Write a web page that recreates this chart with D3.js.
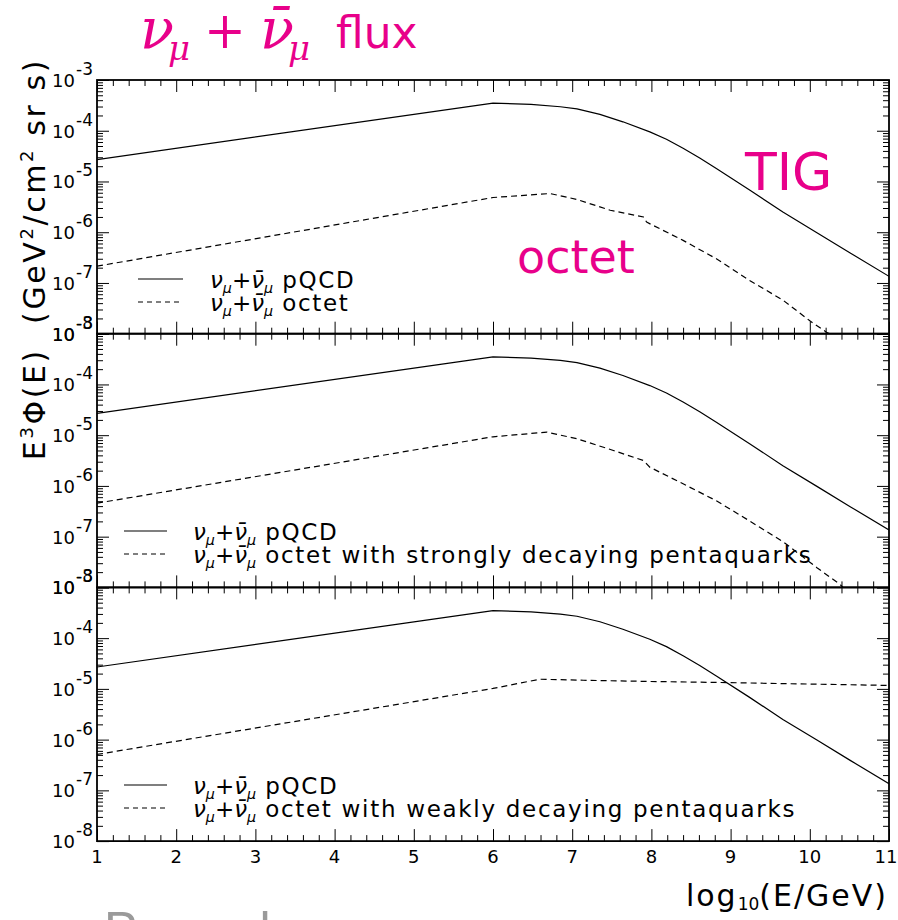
<!DOCTYPE html>
<html><head><meta charset="utf-8">
<script src="https://cdn.jsdelivr.net/npm/d3@7"></script>
<style>body{margin:0;background:#fff} svg{display:block}</style>
</head><body><svg id="c" width="898" height="920"></svg>
<script>
// ---------------- data ----------------
const energyTicks = [1,2,3,4,5,6,7,8,9,10,11];
const fluxExponents = [-3,-4,-5,-6,-7,-8];

const pqcdLogE = [1, 6, 6.48, 6.85, 7.06, 7.35, 7.64, 7.98, 8.19, 8.4, 8.61, 8.82, 9.24, 9.66, 10.09, 10.51, 11];
const pqcdFlux = [2.7e-5, 3.5e-4, 3.3e-4, 2.97e-4, 2.7e-4, 2.1e-4, 1.5e-4, 9.5e-5, 6.8e-5, 4.5e-5, 2.9e-5, 1.8e-5, 6.8e-6, 2.5e-6, 9.8e-7, 3.9e-7, 1.35e-7];

const octetLogE = [1, 6, 6.72, 7.06, 7.48, 7.9, 7.94, 8.4, 8.82, 9.24, 9.66, 10.0, 10.21, 10.25];
const octetFlux = [2.14e-7, 4.83e-6, 5.79e-6, 4.42e-6, 2.71e-6, 2.0e-6, 1.58e-6, 6.9e-7, 3.0e-7, 1.12e-7, 4.6e-8, 1.8e-8, 1.07e-8, 1.0e-8];

const strongLogE = [1, 6, 6.68, 7.06, 7.52, 7.9, 7.98, 8.4, 8.82, 9.24, 9.67, 10.09, 10.38, 10.42];
const strongFlux = [4.57e-7, 9.3e-6, 1.15e-5, 8.5e-6, 5.0e-6, 3.16e-6, 2.34e-6, 1.1e-6, 5.1e-7, 2.04e-7, 7.8e-8, 2.45e-8, 1.15e-8, 1.0e-8];

const weakLogE = [1, 6, 6.59, 7.14, 7.98, 8.95, 9.67, 11];
const weakFlux = [5.1e-7, 1.02e-5, 1.55e-5, 1.48e-5, 1.4e-5, 1.33e-5, 1.27e-5, 1.17e-5];

const legendSolid = "pQCD";
const legendDashed = ["octet", "octet with strongly decaying pentaquarks", "octet with weakly decaying pentaquarks"];

// ---------------- layout ----------------
const L = 97, R = 889, T0 = 80, PH = 253.7;
const magenta = '#e8008a';
const SANS = "'DejaVu Sans', sans-serif";
const SERIF = "'DejaVu Serif', serif";
const svg = d3.select('#c');
const x = d3.scaleLinear().domain([1, 11]).range([L, R]);

const panels = [
  {dx: octetLogE, dy: octetFlux, leg: legendDashed[0], lx0: 138, lx1: 183, tx: 210, ly: 279},
  {dx: strongLogE, dy: strongFlux, leg: legendDashed[1], lx0: 124, lx1: 167, tx: 193, ly: 531},
  {dx: weakLogE, dy: weakFlux, leg: legendDashed[2], lx0: 124, lx1: 167, tx: 193, ly: 785}
];

const minorE = d3.range(10, 111, 2).map(v => v / 10).filter(v => v % 1 !== 0);

function nuText(g, x0, yb, suffix, size) {
  const t = g.append('text').attr('x', x0).attr('y', yb)
    .attr('font-family', SANS).attr('font-size', size).attr('fill', '#000');
  t.append('tspan').attr('font-style', 'italic').text('ν');
  t.append('tspan').attr('font-style', 'italic').attr('font-size', size * 0.62).attr('dy', 5).text('μ');
  t.append('tspan').attr('dy', -5).text('+');
  t.append('tspan').attr('font-style', 'italic').text('ν\u0304');
  t.append('tspan').attr('font-style', 'italic').attr('font-size', size * 0.62).attr('dy', 5).text('μ');
  t.append('tspan').attr('dy', -5).attr('letter-spacing', 1.7).text('\u00a0' + suffix);
}

panels.forEach((p, i) => {
  const top = T0 + i * PH, bot = top + PH;
  const y = d3.scaleLog().domain([1e-8, 1e-3]).range([bot, top]);
  const g = svg.append('g');
  const cid = 'clip' + i;
  svg.append('clipPath').attr('id', cid).append('rect')
    .attr('x', L).attr('y', top).attr('width', R - L).attr('height', PH);

  const line = d3.line().x(d => x(d[0])).y(d => y(d[1]));
  g.append('path').datum(d3.zip(pqcdLogE, pqcdFlux)).attr('d', line)
    .attr('fill', 'none').attr('stroke', '#000').attr('stroke-width', 1.2)
    .attr('stroke-linejoin', 'round').attr('clip-path', `url(#${cid})`);
  g.append('path').datum(d3.zip(p.dx, p.dy)).attr('d', line)
    .attr('fill', 'none').attr('stroke', '#000').attr('stroke-width', 1.2)
    .attr('stroke-dasharray', '6,4').attr('clip-path', `url(#${cid})`);

  const strip = s => s.call(a => a.select('.domain').remove());
  // x ticks (inward)
  g.append('g').attr('transform', `translate(0,${bot})`)
    .call(d3.axisBottom(x).tickValues(energyTicks).tickSize(-12).tickFormat('')).call(strip);
  g.append('g').attr('transform', `translate(0,${bot})`)
    .call(d3.axisBottom(x).tickValues(minorE).tickSize(-6).tickFormat('')).call(strip);
  g.append('g').attr('transform', `translate(0,${top})`)
    .call(d3.axisTop(x).tickValues(energyTicks).tickSize(-12).tickFormat('')).call(strip);
  g.append('g').attr('transform', `translate(0,${top})`)
    .call(d3.axisTop(x).tickValues(minorE).tickSize(-6).tickFormat('')).call(strip);
  // y ticks
  const all = y.ticks();
  const major = fluxExponents.map(e => Math.pow(10, e));
  const minor = all.filter(v => Math.abs(Math.log10(v) - Math.round(Math.log10(v))) > 1e-6);
  [[d3.axisLeft, L], [d3.axisRight, R]].forEach(([ax, pos]) => {
    g.append('g').attr('transform', `translate(${pos},0)`)
      .call(ax(y).tickValues(major).tickSize(-12).tickFormat('')).call(strip);
    g.append('g').attr('transform', `translate(${pos},0)`)
      .call(ax(y).tickValues(minor).tickSize(-6).tickFormat('')).call(strip);
  });
  g.selectAll('.tick line').attr('stroke', '#000').attr('stroke-width', 1);

  // frame
  g.append('rect').attr('x', L).attr('y', top).attr('width', R - L).attr('height', PH)
    .attr('fill', 'none').attr('stroke', '#000').attr('stroke-width', 1.8);

  // y labels
  const lab = g.append('g').attr('font-family', SANS).attr('fill', '#000');
  fluxExponents.forEach(e => {
    const yy = y(Math.pow(10, e));
    lab.append('text').attr('x', 75).attr('y', yy + 7).attr('text-anchor', 'end')
      .attr('font-size', 18).text('10');
    lab.append('text').attr('x', 76).attr('y', yy - 5).attr('font-size', 17).text('-' + (-e));
  });

  // legend
  g.append('line').attr('x1', p.lx0).attr('x2', p.lx1).attr('y1', p.ly).attr('y2', p.ly)
    .attr('stroke', '#000').attr('stroke-width', 1.2);
  g.append('line').attr('x1', p.lx0).attr('x2', p.lx1).attr('y1', p.ly + 23).attr('y2', p.ly + 23)
    .attr('stroke', '#000').attr('stroke-width', 1.2).attr('stroke-dasharray', '5,4');
  nuText(g, p.tx, p.ly + 9, legendSolid, 23);
  nuText(g, p.tx, p.ly + 32, p.leg, 23);

  if (i === 2) {
    g.append('g').selectAll('text').data(energyTicks).join('text')
      .attr('x', d => x(d) - (d === 11 ? 3 : 0)).attr('y', bot + 22).attr('text-anchor', 'middle')
      .attr('font-family', SANS).attr('font-size', 18).text(d => d);
  }
});

// x axis title
const xt = svg.append('text').attr('x', 888).attr('y', 906).attr('text-anchor', 'end')
  .attr('font-family', SANS).attr('font-size', 30).attr('letter-spacing', 2);
xt.append('tspan').text('log');
xt.append('tspan').attr('font-size', 17).attr('dy', 4).attr('letter-spacing', 0).text('10');
xt.append('tspan').attr('dy', -4).text('(E/GeV)');

// y axis title
const yt = svg.append('text').attr('transform', 'translate(45,259) rotate(-90)')
  .attr('text-anchor', 'middle').attr('font-family', SANS).attr('font-size', 30).attr('letter-spacing', 2.6);
yt.append('tspan').text('E');
yt.append('tspan').attr('font-size', 18).attr('dy', -12).text('3');
yt.append('tspan').attr('dy', 12).text('Φ(E)\u00a0\u00a0(GeV');
yt.append('tspan').attr('font-size', 18).attr('dy', -12).text('2');
yt.append('tspan').attr('dy', 12).text('/cm');
yt.append('tspan').attr('font-size', 18).attr('dy', -12).text('2');
yt.append('tspan').attr('dy', 12).text('\u00a0sr s)');

// title
const tt = svg.append('text').attr('y', 48).attr('fill', magenta);
tt.append('tspan').attr('x', 140).attr('font-family', SERIF).attr('font-style', 'italic').attr('font-size', 56).text('ν');
tt.append('tspan').attr('x', 168).attr('dy', 12).attr('font-family', SERIF).attr('font-style', 'italic').attr('font-size', 34).text('μ');
tt.append('tspan').attr('x', 204).attr('dy', -12).attr('font-family', SERIF).attr('font-size', 50).text('+');
tt.append('tspan').attr('x', 260).attr('font-family', SERIF).attr('font-style', 'italic').attr('font-size', 56).text('ν\u0304');
tt.append('tspan').attr('x', 288).attr('dy', 12).attr('font-family', SERIF).attr('font-style', 'italic').attr('font-size', 34).text('μ');
tt.append('tspan').attr('x', 336).attr('dy', -12).attr('font-family', SANS).attr('font-size', 44).text('flux');

// annotations
svg.append('text').attr('x', 745).attr('y', 190).attr('fill', magenta)
  .attr('font-family', SANS).attr('font-size', 52).text('TIG');
svg.append('text').attr('x', 517).attr('y', 273).attr('fill', magenta)
  .attr('font-family', SANS).attr('font-size', 46).text('octet');

// cut-off grey text at the very bottom
svg.append('text').attr('x', 104).attr('y', 947).attr('fill', '#9a9a9a')
  .attr('font-family', "'Liberation Sans', sans-serif").attr('font-size', 50).text('Power law');
</script>
</body></html>
